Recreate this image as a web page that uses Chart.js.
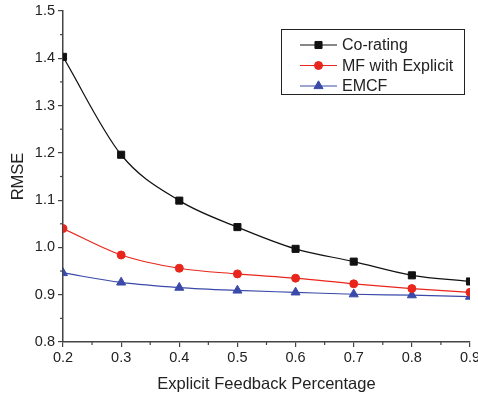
<!DOCTYPE html>
<html>
<head>
<meta charset="utf-8">
<script src="https://cdn.jsdelivr.net/npm/chart.js@4"></script>
<style>
  body { margin: 0; background: #fff; }
  #wrap { width: 478px; height: 396px; }
</style>
</head>
<body>
<div id="wrap"><canvas id="chart"></canvas></div>
<script>
const percentages = [0.2, 0.3, 0.4, 0.5, 0.6, 0.7, 0.8, 0.9];
const coRating = [1.403, 1.196, 1.099, 1.043, 0.997, 0.970, 0.941, 0.928];
const mfExplicit = [1.040, 0.984, 0.956, 0.944, 0.935, 0.923, 0.913, 0.905];
const emcf = [0.946, 0.926, 0.915, 0.909, 0.905, 0.901, 0.899, 0.896];
const seriesNames = ["Co-rating", "MF with Explicit", "EMCF"];

const axisColor = "#444";
const font = "Liberation Sans, Arial, sans-serif";

const toPoints = (ys) => percentages.map((x, i) => ({ x: x, y: ys[i] }));

// minor ticks halfway between the major ones, plus the boxed legend
const extras = {
  id: "extras",
  afterDraw(chart) {
    const ctx = chart.ctx;
    const xs = chart.scales.x, ys = chart.scales.y;
    ctx.save();
    ctx.strokeStyle = axisColor;
    ctx.lineWidth = 1.2;
    for (let v = 0.25; v < 0.9; v += 0.1) {
      const px = xs.getPixelForValue(v);
      ctx.beginPath();
      ctx.moveTo(px, xs.top);
      ctx.lineTo(px, xs.top + 3);
      ctx.stroke();
    }
    for (let v = 0.85; v < 1.5; v += 0.1) {
      const py = ys.getPixelForValue(v);
      ctx.beginPath();
      ctx.moveTo(ys.right, py);
      ctx.lineTo(ys.right - 3, py);
      ctx.stroke();
    }

    // legend
    const bx = 281, by = 29, bw = 183, bh = 65;
    ctx.fillStyle = "#fff";
    ctx.fillRect(bx, by, bw, bh);
    ctx.strokeStyle = "#222";
    ctx.lineWidth = 1;
    ctx.strokeRect(bx + 0.5, by + 0.5, bw, bh);
    ctx.font = "16px " + font;
    ctx.textBaseline = "middle";
    chart.data.datasets.forEach((ds, i) => {
      const y = 45 + i * 20.5;
      ctx.strokeStyle = ds.borderColor;
      ctx.lineWidth = 1;
      ctx.beginPath();
      ctx.moveTo(300, y);
      ctx.lineTo(337, y);
      ctx.stroke();
      ctx.fillStyle = ds.pointBackgroundColor;
      ctx.strokeStyle = ds.pointBorderColor;
      Chart.helpers.drawPoint(ctx, {
        pointStyle: ds.pointStyle, radius: ds.pointRadius, rotation: 0, borderWidth: 1
      }, 318.5, y);
      ctx.fillStyle = "#222";
      ctx.fillText(ds.label, 342, y + 1);
    });
    ctx.restore();
  }
};

new Chart(document.getElementById("chart"), {
  type: "line",
  data: {
    datasets: [
      {
        label: seriesNames[0],
        data: toPoints(coRating),
        borderColor: "#111",
        pointBackgroundColor: "#111",
        pointBorderColor: "#111",
        pointStyle: "rect",
        pointRadius: 5
      },
      {
        label: seriesNames[1],
        data: toPoints(mfExplicit),
        borderColor: "#e8261c",
        pointBackgroundColor: "#e8261c",
        pointBorderColor: "#e8261c",
        pointStyle: "circle",
        pointRadius: 4
      },
      {
        label: seriesNames[2],
        data: toPoints(emcf),
        borderColor: "#3a4aa8",
        pointBackgroundColor: "#3a4aa8",
        pointBorderColor: "#3a4aa8",
        pointStyle: "triangle",
        pointRadius: 5.2
      }
    ]
  },
  options: {
    responsive: true,
    maintainAspectRatio: false,
    animation: false,
    layout: { padding: { top: 11, right: 8, left: 0, bottom: 0 } },
    elements: {
      line: { borderWidth: 1.2, cubicInterpolationMode: "monotone" },
      point: { borderWidth: 1 }
    },
    plugins: {
      legend: { display: false },
      tooltip: { enabled: false }
    },
    scales: {
      x: {
        type: "linear",
        min: 0.2,
        max: 0.9,
        afterFit: (s) => { s.height = 54; s.paddingLeft = 0; s.paddingRight = 0; },
        ticks: {
          stepSize: 0.1,
          color: "#222",
          font: { family: font, size: 14.5 },
          padding: 2,
          maxRotation: 0,
          callback: (v) => v.toFixed(1)
        },
        grid: { drawOnChartArea: false, tickLength: 5, color: axisColor, lineWidth: 1.2 },
        border: { color: axisColor, width: 1.5 },
        title: {
          display: true,
          text: "Explicit Feedback Percentage",
          color: "#222",
          font: { family: font, size: 16.5 },
          padding: { top: 7, bottom: 2 }
        }
      },
      y: {
        min: 0.8,
        max: 1.5,
        afterFit: (s) => { s.width = 63; s.paddingTop = 0; s.paddingBottom = 0; },
        ticks: {
          stepSize: 0.1,
          color: "#222",
          font: { family: font, size: 14.5 },
          padding: 3,
          callback: (v) => v.toFixed(1)
        },
        grid: { drawOnChartArea: false, tickLength: 5, color: axisColor, lineWidth: 1.2 },
        border: { color: axisColor, width: 1.5 },
        title: {
          display: true,
          text: "RMSE",
          color: "#222",
          font: { family: font, size: 16.5 },
          padding: { top: 9, bottom: 0 }
        }
      }
    }
  },
  plugins: [extras]
});
</script>
</body>
</html>
